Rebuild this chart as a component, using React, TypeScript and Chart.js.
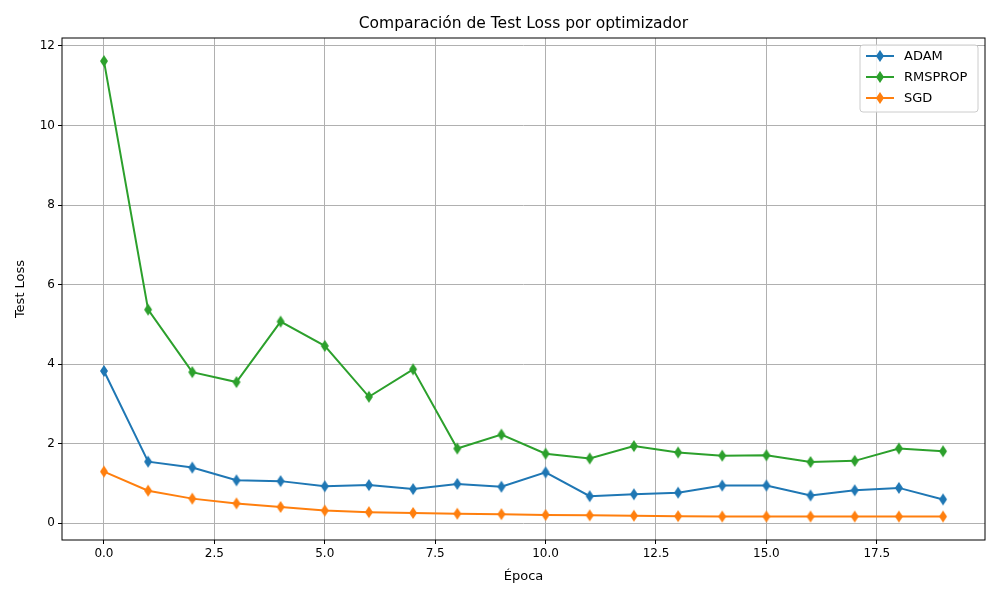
import { useEffect, useRef } from 'react';
import { Chart, registerables } from 'chart.js';

Chart.register(...registerables);

const epochs = Array.from({ length: 20 }, (_, i) => i);
const adam = [3.83, 1.55, 1.40, 1.08, 1.06, 0.93, 0.96, 0.86, 0.99, 0.92, 1.28, 0.68, 0.73, 0.77, 0.95, 0.95, 0.70, 0.83, 0.89, 0.60];
const rmsprop = [11.62, 5.37, 3.80, 3.55, 5.07, 4.46, 3.18, 3.87, 1.88, 2.23, 1.75, 1.63, 1.94, 1.78, 1.70, 1.71, 1.54, 1.57, 1.88, 1.81];
const sgd = [1.30, 0.82, 0.62, 0.50, 0.41, 0.32, 0.28, 0.26, 0.24, 0.23, 0.21, 0.20, 0.19, 0.18, 0.17, 0.17, 0.17, 0.17, 0.17, 0.17];
const seriesNames = ['ADAM', 'RMSPROP', 'SGD'];
const seriesColors = ['#1f77b4', '#2ca02c', '#ff7f0e'];

const font = 'DejaVu Sans';

function diamond(ctx: CanvasRenderingContext2D, cx: number, cy: number, color: string) {
  ctx.fillStyle = color;
  ctx.beginPath();
  ctx.moveTo(cx, cy - 6);
  ctx.lineTo(cx + 4, cy);
  ctx.lineTo(cx, cy + 6);
  ctx.lineTo(cx - 4, cy);
  ctx.closePath();
  ctx.fill();
}

function diamondImage(color: string) {
  const c = document.createElement('canvas');
  c.width = 10;
  c.height = 14;
  const ctx = c.getContext('2d')!;
  diamond(ctx, 5, 7, color);
  return c;
}

const framePlugin = {
  id: 'frame',
  afterDraw(chart: Chart) {
    const { ctx, chartArea: a } = chart;
    ctx.save();
    ctx.strokeStyle = '#000';
    ctx.lineWidth = 1;
    ctx.strokeRect(a.left, a.top, a.right - a.left, a.bottom - a.top);
    ctx.fillStyle = '#000';
    ctx.font = `15.5px "${font}"`;
    ctx.textAlign = 'center';
    ctx.textBaseline = 'middle';
    ctx.fillText('Comparación de Test Loss por optimizador', (a.left + a.right) / 2, 24);
    ctx.font = `13px "${font}"`;
    ctx.fillText('Época', (a.left + a.right) / 2, 577);
    ctx.save();
    ctx.translate(21, (a.top + a.bottom) / 2);
    ctx.rotate(-Math.PI / 2);
    ctx.fillText('Test Loss', 0, 0);
    ctx.restore();
    // legend
    const x = 860, y = 45, w = 118, h = 67;
    ctx.fillStyle = 'rgba(255,255,255,0.8)';
    ctx.strokeStyle = '#cccccc';
    ctx.beginPath();
    ctx.roundRect(x, y, w, h, 3);
    ctx.fill();
    ctx.stroke();
    ctx.font = `13px "${font}"`;
    ctx.textAlign = 'left';
    seriesNames.forEach((name, i) => {
      const cy = y + 11 + i * 21;
      ctx.strokeStyle = seriesColors[i];
      ctx.lineWidth = 2;
      ctx.beginPath();
      ctx.moveTo(x + 6, cy);
      ctx.lineTo(x + 34, cy);
      ctx.stroke();
      diamond(ctx, x + 20, cy, seriesColors[i]);
      ctx.fillStyle = '#000';
      ctx.fillText(name, x + 44, cy + 1);
    });
    ctx.restore();
  },
};

export default function App() {
  const canvasRef = useRef<HTMLCanvasElement>(null);

  useEffect(() => {
    document.body.style.margin = '0';
    if (!canvasRef.current) return;
    const mk = (label: string, data: number[], color: string) => ({
      label,
      data: data.map((v, i) => ({ x: epochs[i], y: v })),
      borderColor: color,
      backgroundColor: color,
      borderWidth: 2,
      pointStyle: diamondImage(color),
      pointRadius: 5,
      tension: 0,
    });
    const chart = new Chart(canvasRef.current, {
      type: 'line',
      data: {
        datasets: [
          mk('ADAM', adam, seriesColors[0]),
          mk('RMSPROP', rmsprop, seriesColors[1]),
          mk('SGD', sgd, seriesColors[2]),
        ],
      },
      options: {
        animation: false,
        responsive: false,
        layout: { padding: { left: 0, right: 15, top: 38, bottom: 0 } },
        plugins: { legend: { display: false }, title: { display: false }, tooltip: { enabled: false } },
        scales: {
          x: {
            type: 'linear',
            min: -0.95,
            max: 19.95,
            afterBuildTicks: (s: any) => {
              s.ticks = [0, 2.5, 5, 7.5, 10, 12.5, 15, 17.5].map((v) => ({ value: v }));
            },
            afterFit: (s: any) => { s.height = 60; },
            ticks: { color: '#000', font: { family: font, size: 12 }, callback: (v: any) => Number(v).toFixed(1), maxRotation: 0 },
            grid: { color: '#b0b0b0', tickColor: '#000', tickLength: 4 },
            border: { display: false },
          },
          y: {
            min: -0.42,
            max: 12.2,
            afterBuildTicks: (s: any) => {
              s.ticks = [0, 2, 4, 6, 8, 10, 12].map((v) => ({ value: v }));
            },
            afterFit: (s: any) => { s.width = 62; },
            ticks: { color: '#000', font: { family: font, size: 12 } },
            grid: { color: '#b0b0b0', tickColor: '#000', tickLength: 4 },
            border: { display: false },
          },
        },
      },
      plugins: [framePlugin],
    });
    return () => chart.destroy();
  }, []);

  return <canvas ref={canvasRef} width={1000} height={600} style={{ display: 'block' }} />;
}
